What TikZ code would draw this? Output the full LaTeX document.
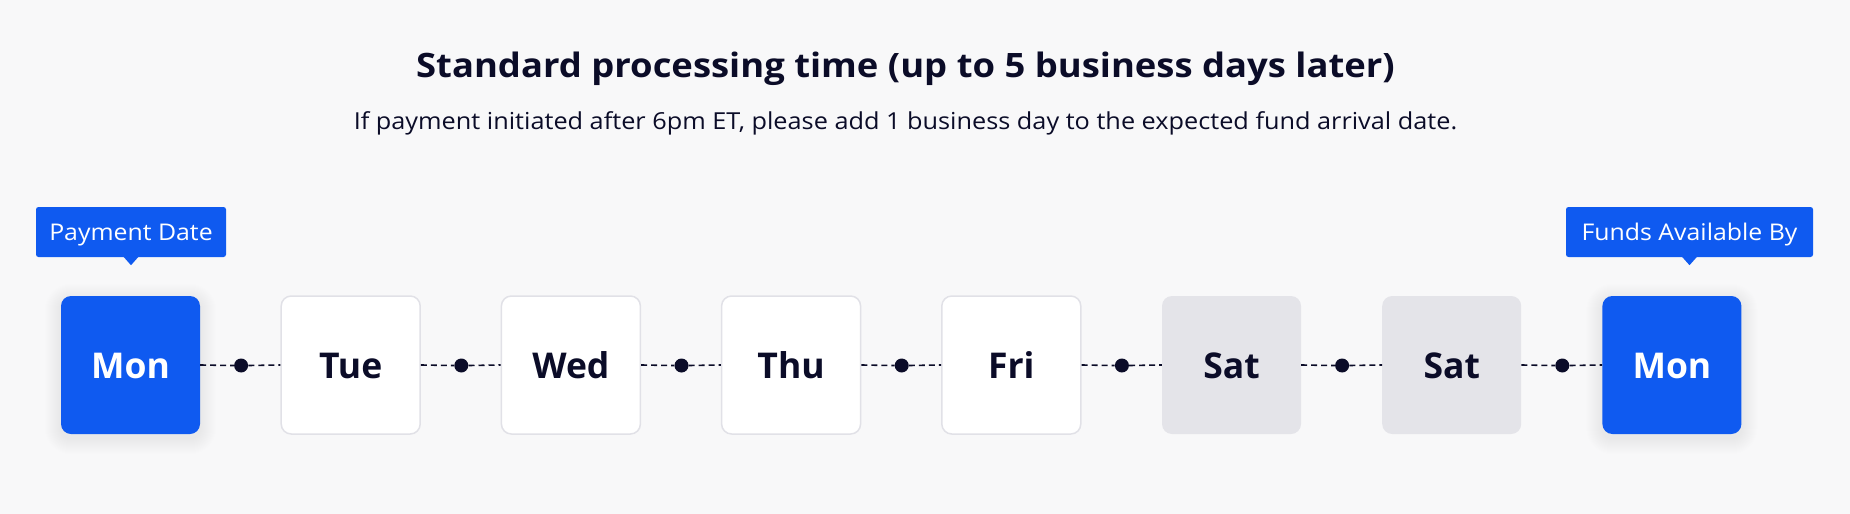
\documentclass[tikz,border=0pt]{standalone}
\usepackage{fontspec}
\setmainfont{Open Sans}
\usetikzlibrary{backgrounds}
\definecolor{bg}{HTML}{F8F8F9}
\definecolor{brand}{HTML}{0F5AF0}
\definecolor{ink}{HTML}{0B0C28}
\definecolor{weekend}{HTML}{E4E4E9}
\definecolor{edge}{HTML}{E1E1E7}
\begin{document}
\begin{tikzpicture}[x=1pt,y=-1pt,
  day/.style={minimum width=139pt,minimum height=138pt,rounded corners=10pt,inner sep=0pt,
    text height=26pt,text depth=0pt,font=\fontsize{35.5}{40}\selectfont\bfseries},
  workday/.style={day,fill=white,draw=edge,line width=1.5pt,text=ink},
  weekendday/.style={day,fill=weekend,text=ink},
  keyday/.style={day,fill=brand,text=white},
  tip/.style={fill=brand,text=white,rounded corners=2.5pt,inner sep=0pt,minimum height=50pt,
    text height=16.5pt,text depth=0pt,font=\fontsize{23}{26}\selectfont},
  dotmark/.style={circle,fill=ink,minimum size=14pt,inner sep=0pt},
  link/.style={draw=ink,line width=1.6pt,dash pattern=on 6pt off 4pt}
]
\useasboundingbox (0,0) rectangle (1850,514);

\node[anchor=base,text=ink,font=\fontsize{33.6}{38}\selectfont\bfseries] (title) at (905.5,77.7)
  {\scalebox{1.084}[1]{Standard processing time (up to 5 business days later)}};
\node[anchor=base,text=ink,font=\fontsize{23.4}{26}\selectfont] (sub) at (905.5,129.3)
  {\scalebox{1.08}[1]{If payment initiated after 6pm ET, please add 1 business day to the expected fund arrival date.}};

\node[keyday] (d1) at (130.5,365) {Mon};
\node[workday] (d2) at (350.7,365) {Tue};
\node[workday] (d3) at (570.9,365) {Wed};
\node[workday] (d4) at (791.1,365) {Thu};
\node[workday] (d5) at (1011.3,365) {Fri};
\node[weekendday] (d6) at (1231.5,365) {Sat};
\node[weekendday] (d7) at (1451.7,365) {Sat};
\node[keyday] (d8) at (1671.9,365) {Mon};

\node[dotmark] (k1) at (241.1,365.5) {};
\node[dotmark] (k2) at (461.3,365.5) {};
\node[dotmark] (k3) at (681.5,365.5) {};
\node[dotmark] (k4) at (901.7,365.5) {};
\node[dotmark] (k5) at (1121.9,365.5) {};
\node[dotmark] (k6) at (1342.1,365.5) {};
\node[dotmark] (k7) at (1562.3,365.5) {};

\draw[link] (d1.east) -- (k1.west) (k1.east) -- (d2.west);
\draw[link] (d2.east) -- (k2.west) (k2.east) -- (d3.west);
\draw[link] (d3.east) -- (k3.west) (k3.east) -- (d4.west);
\draw[link] (d4.east) -- (k4.west) (k4.east) -- (d5.west);
\draw[link] (d5.east) -- (k5.west) (k5.east) -- (d6.west);
\draw[link] (d6.east) -- (k6.west) (k6.east) -- (d7.west);
\draw[link] (d7.east) -- (k7.west) (k7.east) -- (d8.west);

\node[tip,minimum width=190pt] (pd) at (131,232) {\scalebox{1.08}[1]{Payment Date}};
\fill[brand] ([xshift=-8pt,yshift=1pt]pd.south) -- ([yshift=-8pt]pd.south) -- ([xshift=8pt,yshift=1pt]pd.south) -- cycle;
\node[tip,minimum width=247pt] (fa) at (1689.5,232) {\scalebox{1.08}[1]{Funds Available By}};
\fill[brand] ([xshift=-8pt,yshift=1pt]fa.south) -- ([yshift=-8pt]fa.south) -- ([xshift=8pt,yshift=1pt]fa.south) -- cycle;

\begin{scope}[on background layer]
  \fill[bg] (0,0) rectangle (1850,514);
  \foreach \n in {d1,d8}{
    \foreach \r in {1,...,16}{
      \fill[black,fill opacity=0.0045,rounded corners={10pt+\r pt}]
        ([xshift=-\r pt,yshift=-\r pt-4pt]\n.south west) rectangle ([xshift=\r pt,yshift=\r pt-4pt]\n.north east);
    }
  }
\end{scope}
\end{tikzpicture}
\end{document}
